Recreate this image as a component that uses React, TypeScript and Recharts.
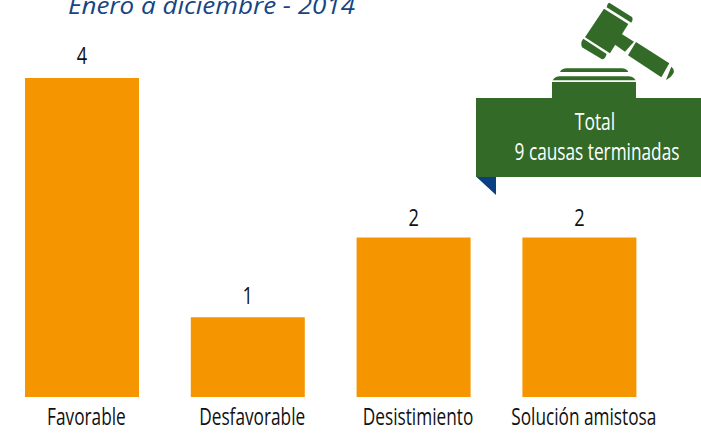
import React from "react";
import { BarChart, Bar, XAxis, YAxis, LabelList } from "recharts";

const categories = ["Favorable", "Desfavorable", "Desistimiento", "Solución amistosa"];
const causas = [4, 1, 2, 2];
const labelLift = [14, 13, 12, 12];
const data = categories.map((name, i) => ({ name, causas: causas[i] }));

const FONT = "'Open Sans', sans-serif";
const GREEN = "#336a27";
const SQUEEZE = 0.76;

const NarrowTick = ({ x, y, payload }: any) => (
  <g transform={`translate(${x + 4.5} ${y + 20}) scale(0.75 1)`}>
    <text textAnchor="middle" fontFamily={FONT} fontSize={23} fill="#111">{payload.value}</text>
  </g>
);

const NarrowValue = ({ x, y, width, value, index }: any) => (
  <g transform={`translate(${x + width / 2} ${y - labelLift[index]}) scale(${SQUEEZE} 1)`}>
    <text textAnchor="middle" fontFamily={FONT} fontSize={24} fill="#111">{value}</text>
  </g>
);

const Overlay = () => (
  <svg width={701} height={433} style={{ position: "absolute", left: 0, top: 0, pointerEvents: "none" }}>
    <text x={68} y={13.5} fontFamily={FONT} fontStyle="italic" fontSize={24} fill="#164584" textLength={287} lengthAdjust="spacingAndGlyphs">
      Enero a diciembre - 2014
    </text>
    <g fill={GREEN} transform="translate(470 0) scale(0.3333)">
      <path d="M418 8 L487 52 Q490 60 484 68 L410 22 Q412 10 418 8 Z" />
      <path d="M402 26 L475 72 L420 160 L345 112 Z" />
      <path d="M340 116 L410 162 Q406 178 396 178 L336 142 Q330 128 340 116 Z" />
      <path d="M452 100 L492 125 L465 155 L432 132 Z" />
      <path d="M498 126 L598 190 L574 232 L474 166 Z" />
      <path d="M604 200 Q614 208 611 218 Q604 232 588 240 Z" />
      <path d="M270 216 Q275 205 290 205 L455 205 Q470 205 475 216 Z" />
      <path d="M248 241 Q255 229 270 229 L475 229 Q490 229 497 241 Z" />
      <rect x={246} y={246} width={252} height={50} />
    </g>
    <rect x={476} y={98} width={225} height={79} fill={GREEN} />
    <polygon points="476.5,177 496,177 496,195" fill="#0b3f83" />
    <g transform={`translate(595 130) scale(${SQUEEZE} 1)`}>
      <text textAnchor="middle" fontFamily={FONT} fontSize={23} fill="#fff">Total</text>
    </g>
    <g transform={`translate(597 160) scale(0.75 1)`}>
      <text textAnchor="middle" fontFamily={FONT} fontSize={23} fill="#fff">9 causas terminadas</text>
    </g>
  </svg>
);

export default function App() {
  return (
    <div style={{ position: "absolute", left: 0, top: 0, width: 701, height: 433 }}>
      <BarChart width={701} height={433} data={data} margin={{ top: 78, right: 38.8, bottom: 0, left: -1 }}>
        <YAxis hide domain={[0, 4]} />
        <XAxis dataKey="name" axisLine={false} tickLine={false} interval={0} height={36} tick={<NarrowTick />} />
        <Bar dataKey="causas" fill="#f59500" barSize={114} isAnimationActive={false}>
          <LabelList dataKey="causas" content={<NarrowValue />} />
        </Bar>
      </BarChart>
      <Overlay />
    </div>
  );
}
